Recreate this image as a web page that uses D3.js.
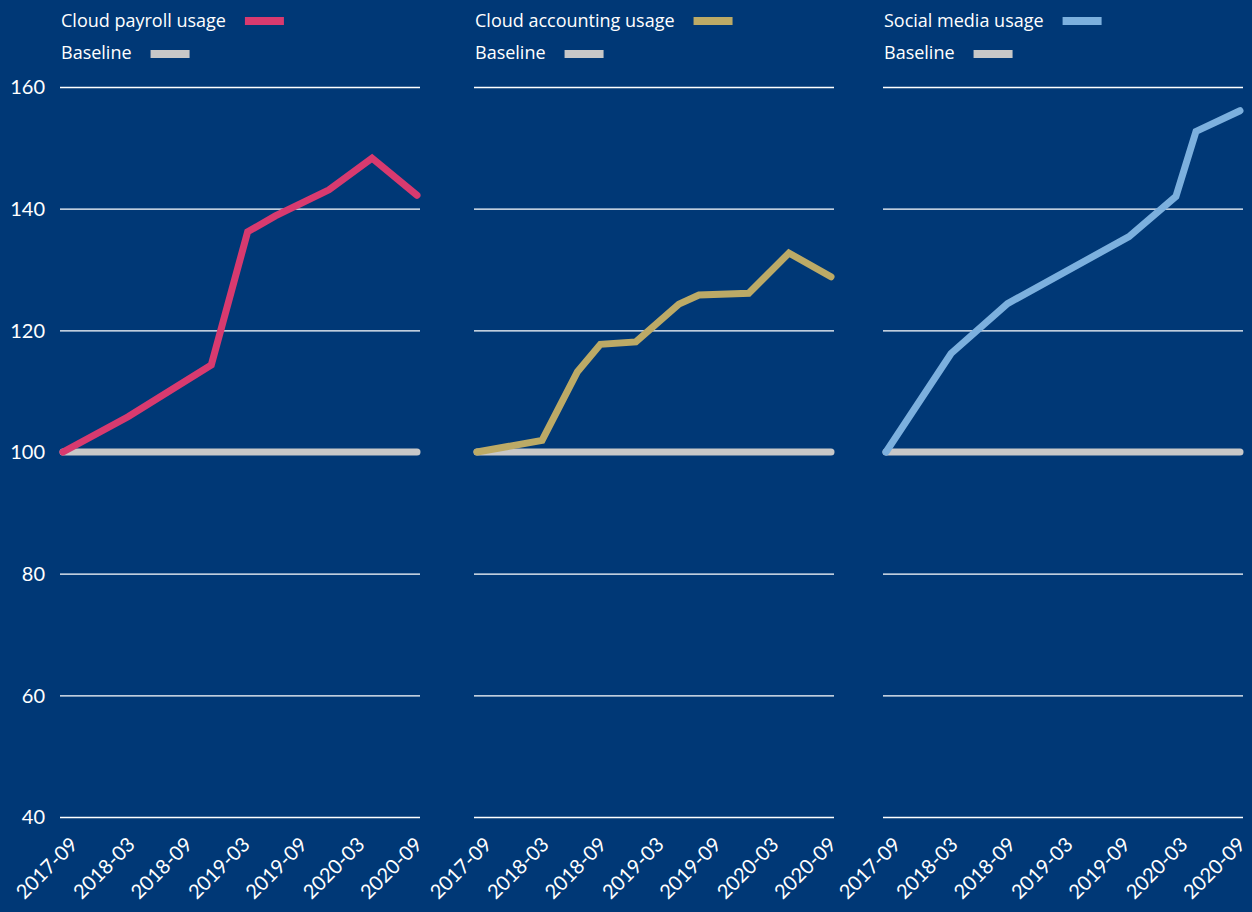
<!DOCTYPE html>
<html>
<head>
<meta charset="utf-8">
<script src="https://cdn.jsdelivr.net/npm/d3@7"></script>
<style>
  html, body { margin: 0; padding: 0; background: #003876; }
  svg { display: block; }
</style>
</head>
<body>
<svg id="chart" width="1252" height="912"></svg>
<script>
// x positions are months after 2017-09
const tickMonths = [0, 6, 12, 18, 24, 30, 36];
const tickLabels = ["2017-09", "2018-03", "2018-09", "2019-03", "2019-09", "2020-03", "2020-09"];
const yTicks = [40, 60, 80, 100, 120, 140, 160];

const seriesNames = ["Cloud payroll usage", "Cloud accounting usage", "Social media usage"];
const seriesColors = ["#d83a6f", "#bcaa66", "#7cb0de"];

const payrollMonths = [0, 6.8, 15.5, 19.3, 22.2, 27.8, 32.3, 37];
const payrollValues = [100, 105.8, 114.3, 136.2, 138.8, 143.1, 148.3, 142.2];

const accountingMonths = [0, 6.8, 10.5, 12.9, 16.6, 21.1, 23.2, 28.4, 32.6, 37];
const accountingValues = [100, 101.9, 113.2, 117.7, 118.1, 124.3, 125.8, 126.1, 132.7, 128.8];

const socialMonths = [0, 6.8, 12.7, 25.4, 30.3, 32.4, 37];
const socialValues = [100, 116.2, 124.4, 135.4, 142.0, 152.7, 156.1];

const baselineMonths = [0, 37];
const baselineValues = [100, 100];

const allMonths = [payrollMonths, accountingMonths, socialMonths];
const allValues = [payrollValues, accountingValues, socialValues];

const svg = d3.select("#chart");
const panelLeft = [60, 474, 883];
const panelWidth = 360;

const y = d3.scaleLinear().domain([40, 160]).range([817, 87]);

const labelFont = "'Open Sans', 'Noto Sans', sans-serif";
const tickFont = "Lato, 'Open Sans', sans-serif";

panelLeft.forEach((left, i) => {
    const g = svg.append("g");
    const x = d3.scaleLinear().domain([0, 37]).range([left + 3, left + panelWidth - 3]);

    // gridlines
    g.append("g")
        .attr("transform", "translate(" + left + ",0)")
        .call(d3.axisLeft(y).tickValues(yTicks).tickSize(-panelWidth).tickFormat(""))
        .call(a => a.select(".domain").remove())
        .selectAll(".tick line").attr("stroke", "#ffffff").attr("stroke-width", 1.3);

    // y labels only on first panel
    if (i === 0) {
        g.selectAll(".ylab")
            .data(yTicks)
            .enter().append("text")
            .attr("x", 45)
            .attr("y", d => y(d))
            .attr("dy", "0.36em")
            .attr("text-anchor", "end")
            .attr("fill", "#ffffff")
            .style("font-family", tickFont)
            .style("font-size", "20px")
            .text(d => d);
    }

    // x tick labels
    g.selectAll(".xlab")
        .data(tickMonths)
        .enter().append("text")
        .attr("transform", (d) => "translate(" + (x(d) + 6) + "," + 836 + ") rotate(-45)")
        .attr("text-anchor", "end")
        .attr("dy", "0.7em")
        .attr("fill", "#ffffff")
        .style("font-family", tickFont)
        .style("font-size", "20px")
        .text((d, j) => tickLabels[j]);

    const line = d3.line()
        .x(d => x(d[0]))
        .y(d => y(d[1]));

    // baseline
    g.append("path")
        .datum(d3.zip(baselineMonths, baselineValues))
        .attr("d", line)
        .attr("fill", "none")
        .attr("stroke", "#c8c8c8")
        .attr("stroke-width", 7)
        .attr("stroke-linecap", "round");

    // series
    g.append("path")
        .datum(d3.zip(allMonths[i], allValues[i]))
        .attr("d", line)
        .attr("fill", "none")
        .attr("stroke", seriesColors[i])
        .attr("stroke-width", 7)
        .attr("stroke-linecap", "round")
        .attr("stroke-linejoin", "miter");

    // legend
    const leg = g.append("g").attr("transform", "translate(" + (left + 1) + ",0)");
    const t1 = leg.append("text")
        .attr("x", 0).attr("y", 27)
        .attr("fill", "#ffffff")
        .style("font-family", labelFont)
        .style("font-size", "18px")
        .text(seriesNames[i]);
    const w1 = t1.node().getComputedTextLength();
    leg.append("rect")
        .attr("x", w1 + 19).attr("y", 17)
        .attr("width", 39).attr("height", 8)
        .attr("fill", seriesColors[i]);

    const t2 = leg.append("text")
        .attr("x", 0).attr("y", 59)
        .attr("fill", "#ffffff")
        .style("font-family", labelFont)
        .style("font-size", "18px")
        .text("Baseline");
    const w2 = t2.node().getComputedTextLength();
    leg.append("rect")
        .attr("x", w2 + 19).attr("y", 50)
        .attr("width", 39).attr("height", 8)
        .attr("fill", "#c8c8c8");
});
</script>
</body>
</html>
